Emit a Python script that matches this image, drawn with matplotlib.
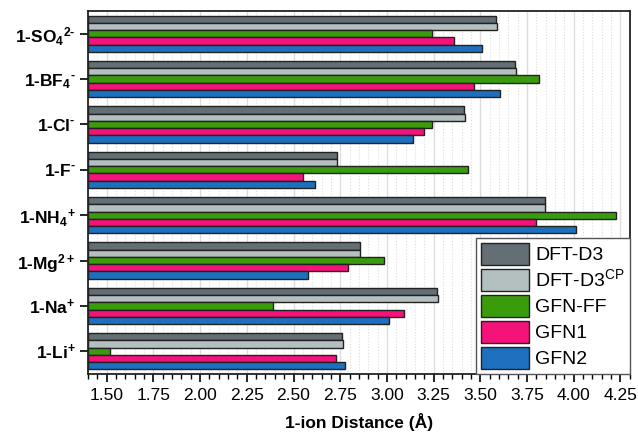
import numpy as np
import matplotlib.pyplot as plt
from matplotlib.ticker import MultipleLocator

plt.rcParams['font.family'] = ['Liberation Sans', 'DejaVu Sans']
plt.rcParams['mathtext.fontset'] = 'custom'
plt.rcParams['mathtext.rm'] = 'Liberation Sans:bold'
plt.rcParams['mathtext.it'] = 'Liberation Sans:bold'
plt.rcParams['mathtext.bf'] = 'Liberation Sans:bold'
plt.rcParams['mathtext.sf'] = 'Liberation Sans'

# complexes, top to bottom
systems = [r'1-SO$_4$$^{2\text{-}}$', r'1-BF$_4$$^{\text{-}}$', r'1-Cl$^{\text{-}}$',
           r'1-F$^{\text{-}}$', r'1-NH$_4$$^{+}$', r'1-Mg$^{2+}$',
           r'1-Na$^{+}$', r'1-Li$^{+}$']

methods = ['DFT-D3', r'DFT-D3$^{\mathsf{CP}}$', 'GFN-FF', 'GFN1', 'GFN2']
colors = ['#636e75', '#b4bfbf', '#3a9c0c', '#f5137a', '#1e6fbd']

dft_d3 = [3.585, 3.684, 3.413, 2.731, 3.845, 2.854, 3.268, 2.760]
dft_d3_cp = [3.590, 3.690, 3.417, 2.735, 3.849, 2.856, 3.276, 2.763]
gfn_ff = [3.240, 3.817, 3.243, 3.436, 4.229, 2.983, 2.390, 1.520]
gfn1 = [3.358, 3.465, 3.197, 2.551, 3.798, 2.790, 3.092, 2.729]
gfn2 = [3.510, 3.606, 3.140, 2.613, 4.010, 2.578, 3.011, 2.777]

series = [dft_d3, dft_d3_cp, gfn_ff, gfn1, gfn2]

fig = plt.figure(figsize=(6.38, 4.41), dpi=100)
ax = fig.add_axes([0.138, 0.152, 0.849, 0.823])

x0 = 1.4
h = 0.16
y = np.arange(len(systems))
for i, (vals, lab, c) in enumerate(zip(series, methods, colors)):
    vals = np.array(vals)
    ax.barh(y - 0.4 + h * (i + 0.5), vals - x0, height=h, left=x0,
            color=c, edgecolor='#222222', linewidth=1.0, label=lab, zorder=3)

ax.set_xlim(1.4, 4.3)
ax.set_ylim(7.5, -0.5)
ax.xaxis.set_minor_locator(MultipleLocator(0.05))
ticks = np.arange(1.5, 4.26, 0.25)
ax.set_xticks(ticks)
ax.set_xticklabels(['%.2f' % v for v in ticks])
ax.set_yticks(y)
ax.set_yticklabels(systems, fontweight='bold')

ax.grid(axis='x', which='major', color='#dddddd', linewidth=1.0, zorder=0)
ax.grid(axis='x', which='minor', color='#dddddd', linewidth=0.8,
        linestyle=':', zorder=0)

ax.tick_params(axis='x', which='major', length=6, width=1.2, labelsize=12.5,
               pad=4)
ax.tick_params(axis='x', which='minor', length=3.5, width=1.0)
ax.tick_params(axis='y', length=6, width=1.2, labelsize=12.5, pad=3)
for s in ax.spines.values():
    s.set_linewidth(1.3)
    s.set_color('#222222')

ax.set_xlabel('1-ion Distance (Å)', fontweight='bold', fontsize=12.5,
              labelpad=7)

leg = ax.legend(loc='lower right', fontsize=14, frameon=True, fancybox=False,
                borderaxespad=0, handlelength=2.5, handleheight=1.4,
                labelspacing=0.18, handletextpad=0.3, borderpad=0.25)
leg.get_frame().set_edgecolor('#555555')
leg.get_frame().set_linewidth(1.0)
leg.get_frame().set_alpha(1)

fig.savefig('out.png', dpi=100)
